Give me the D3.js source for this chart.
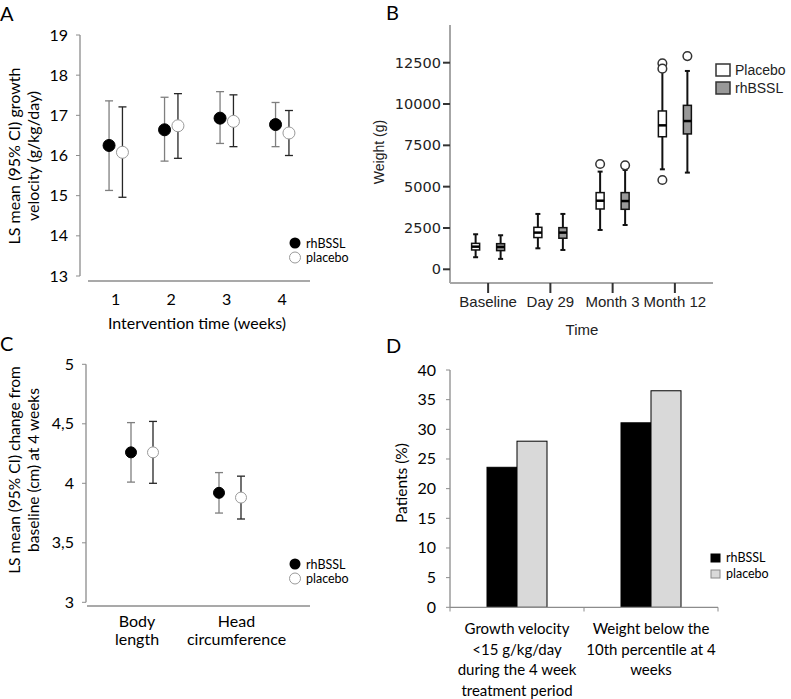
<!DOCTYPE html>
<html>
<head>
<meta charset="utf-8">
<script src="https://cdn.jsdelivr.net/npm/d3@7"></script>
<style>
  body { margin: 0; background: #fff; }
  .cal { font-family: Lato, "Open Sans", sans-serif; fill: #000; }
  .ari { font-family: "Liberation Sans", Arial, sans-serif; fill: #222; }
  .dej { font-family: "DejaVu Sans", sans-serif; fill: #222; }
</style>
</head>
<body>
<svg id="svg1"></svg>
<script>
// ---- panel A: growth velocity by week
var weeks = ["1", "2", "3", "4"];
var gvRh = [16.25, 16.64, 16.93, 16.77];
var gvRhLo = [15.13, 15.86, 16.30, 16.22];
var gvRhHi = [17.36, 17.45, 17.59, 17.32];
var gvPl = [16.08, 16.74, 16.85, 16.56];
var gvPlLo = [14.96, 15.93, 16.22, 16.00];
var gvPlHi = [17.21, 17.54, 17.51, 17.12];
var gvTicks = [13, 14, 15, 16, 17, 18, 19];

// ---- panel B: weight box plots, [min, q1, median, q3, max]
var timepoints = ["Baseline", "Day 29", "Month 3", "Month 12"];
var wtPlacebo = [[730, 1170, 1370, 1570, 2120], [1270, 1920, 2220, 2540, 3350], [2380, 3650, 4150, 4640, 5910], [6050, 8020, 8710, 9580, 11960]];
var wtRh = [[630, 1130, 1350, 1550, 2060], [1170, 1880, 2220, 2520, 3350], [2680, 3630, 4130, 4640, 6010], [5850, 8190, 8970, 9920, 12000]];
var outPlacebo = [[], [], [6370], [12460, 12140, 5400]];
var outRh = [[], [], [6290], [12900]];
var wtTicks = [0, 2500, 5000, 7500, 10000, 12500];

// ---- panel C: change from baseline at 4 weeks
var measures = [["Body", "length"], ["Head", "circumference"]];
var chRh = [4.26, 3.92];
var chRhLo = [4.01, 3.75];
var chRhHi = [4.51, 4.09];
var chPl = [4.26, 3.88];
var chPlLo = [4.00, 3.70];
var chPlHi = [4.52, 4.06];
var chTicks = [3, 3.5, 4, 4.5, 5];

// ---- panel D: patients (%)
var outcomes = [["Growth velocity", "<15 g/kg/day", "during the 4 week", "treatment period"],
                ["Weight below the", "10th percentile at 4", "weeks"]];
var pctRh = [23.6, 31.1];
var pctPl = [28.0, 36.5];
var pctTicks = [0, 5, 10, 15, 20, 25, 30, 35, 40];

var svg = d3.select("#svg1").attr("width", 791).attr("height", 699);

var axisGrey = "#8c8c8c";

// panel letters
var letters = [["A", 0, 21], ["B", 386, 20], ["C", 0, 351], ["D", 386, 353]];
svg.selectAll(".letter").data(letters).enter().append("text")
  .attr("class", "cal letter")
  .attr("x", function (d) { return d[1]; })
  .attr("y", function (d) { return d[2]; })
  .style("font-size", "20px")
  .text(function (d) { return d[0]; });

// error-bar scatter used by A and C
function ciPanel(g, opt) {
  var x = d3.scaleBand().domain(opt.cats.map(function (d, i) { return i; })).range(opt.xr);
  var y = d3.scaleLinear().domain(opt.yd).range(opt.yr);

  g.append("line").attr("x1", opt.yAxisX).attr("x2", opt.yAxisX)
    .attr("y1", y(opt.yd[1])).attr("y2", y(opt.yd[0]))
    .attr("stroke", axisGrey).attr("stroke-width", 1.3);
  if (opt.drawX !== false) {
    g.append("line").attr("x1", opt.xr[0]).attr("x2", opt.xr[1])
      .attr("y1", opt.xAxisY).attr("y2", opt.xAxisY)
      .attr("stroke", axisGrey).attr("stroke-width", 1.3);
  }

  g.selectAll(".ytick").data(opt.ticks).enter().append("line")
    .attr("x1", opt.yAxisX - 4).attr("x2", opt.yAxisX)
    .attr("y1", function (d) { return y(d); }).attr("y2", function (d) { return y(d); })
    .attr("stroke", axisGrey);
  g.selectAll(".ylab").data(opt.ticks).enter().append("text")
    .attr("class", "cal")
    .attr("x", opt.yAxisX - 12).attr("y", function (d) { return y(d) + 5.5; })
    .style("font-size", "16px").style("text-anchor", "end")
    .text(opt.fmt);

  var series = [
    { v: opt.rh, lo: opt.rhLo, hi: opt.rhHi, dx: -opt.off, bar: "#7f7f7f", fill: "#000", stroke: "#000" },
    { v: opt.pl, lo: opt.plLo, hi: opt.plHi, dx: opt.off, bar: "#262626", fill: "#fff", stroke: "#9a9a9a" }
  ];
  series.forEach(function (s) {
    var pts = s.v.map(function (v, i) {
      return { x: x(i) + x.bandwidth() / 2 + s.dx, v: v, lo: s.lo[i], hi: s.hi[i] };
    });
    var eb = g.append("g");
    eb.selectAll(".stem").data(pts).enter().append("line")
      .attr("x1", function (d) { return d.x; }).attr("x2", function (d) { return d.x; })
      .attr("y1", function (d) { return y(d.hi); }).attr("y2", function (d) { return y(d.lo); })
      .attr("stroke", s.bar).attr("stroke-width", 1.3);
    ["hi", "lo"].forEach(function (k) {
      eb.selectAll(".cap" + k).data(pts).enter().append("line")
        .attr("x1", function (d) { return d.x - 4; }).attr("x2", function (d) { return d.x + 4; })
        .attr("y1", function (d) { return y(d[k]); }).attr("y2", function (d) { return y(d[k]); })
        .attr("stroke", s.bar).attr("stroke-width", 1.3);
    });
    eb.selectAll(".dot").data(pts).enter().append("circle")
      .attr("cx", function (d) { return d.x; }).attr("cy", function (d) { return y(d.v); })
      .attr("r", opt.r).attr("fill", s.fill).attr("stroke", s.stroke).attr("stroke-width", 1);
  });

  // category labels (can be multi-line)
  opt.cats.forEach(function (c, i) {
    var lines = Array.isArray(c) ? c : [c];
    var lx = x(i) + x.bandwidth() / 2 + (opt.labNudge ? opt.labNudge[i] : 0);
    g.append("text").attr("class", "cal")
      .attr("x", lx).attr("y", opt.labY)
      .style("font-size", "16px").style("text-anchor", "middle")
      .selectAll("tspan").data(lines).enter().append("tspan")
      .attr("x", lx)
      .attr("dy", function (d, j) { return j === 0 ? 0 : 18; })
      .text(function (d) { return d; });
  });

  // y title, two lines
  var t = g.append("text").attr("class", "cal")
    .attr("transform", "translate(" + opt.titleX + "," + opt.titleY + ") rotate(-90)")
    .style("font-size", opt.titleSize).style("text-anchor", "middle");
  t.selectAll("tspan").data(opt.title).enter().append("tspan")
    .attr("x", 0).attr("dy", function (d, j) { return j === 0 ? 0 : 19; })
    .text(function (d) { return d; });

  // legend
  var lg = g.append("g").attr("transform", "translate(" + opt.legX + "," + opt.legY + ")");
  lg.append("circle").attr("cx", 0).attr("cy", 0).attr("r", 5.5).attr("fill", "#000");
  lg.append("circle").attr("cx", 0).attr("cy", 14.5).attr("r", 5.5).attr("fill", "#fff").attr("stroke", "#9a9a9a");
  lg.append("text").attr("class", "cal").attr("x", 11).attr("y", 4.5).style("font-size", "12.5px").text("rhBSSL");
  lg.append("text").attr("class", "cal").attr("x", 11).attr("y", 19).style("font-size", "12.5px").text("placebo");
}

// A
ciPanel(svg.append("g"), {
  cats: weeks, xr: [88, 310], yd: [13, 19], yr: [276, 35], ticks: gvTicks,
  yAxisX: 80, xAxisY: 281, off: 6.7, r: 6,
  rh: gvRh, rhLo: gvRhLo, rhHi: gvRhHi, pl: gvPl, plLo: gvPlLo, plHi: gvPlHi,
  fmt: function (d) { return d; }, labY: 305,
  title: ["LS mean (95% CI) growth", "velocity (g/kg/day)"], titleX: 20, titleY: 156, titleSize: "16px",
  legX: 295, legY: 243
});
svg.append("text").attr("class", "cal").attr("x", 197).attr("y", 329)
  .style("font-size", "16px").style("text-anchor", "middle").text("Intervention time (weeks)");

// C
ciPanel(svg.append("g"), {
  cats: measures, xr: [98, 274], yd: [3, 5], yr: [602.3, 364.3], ticks: chTicks,
  yAxisX: 86, xAxisY: 606, off: 11, r: 5.5, drawX: false,
  rh: chRh, rhLo: chRhLo, rhHi: chRhHi, pl: chPl, plLo: chPlLo, plHi: chPlHi,
  labNudge: [-5, 6.5],
  fmt: function (d) { return String(d).replace(".", ","); }, labY: 627,
  title: ["LS mean (95% CI) change from", "baseline (cm)  at 4 weeks"], titleX: 20, titleY: 470, titleSize: "15.5px",
  legX: 295, legY: 564
});
// x axis in C spans wider than the category scale
svg.append("line").attr("x1", 87).attr("x2", 310).attr("y1", 606).attr("y2", 606)
  .attr("stroke", axisGrey).attr("stroke-width", 1.3);

// ---- B: box plots
(function () {
  var g = svg.append("g");
  var x = d3.scaleBand().domain(timepoints).range([457, 706]);
  var y = d3.scaleLinear().domain([0, 12500]).range([269.3, 62.7]);
  var boxW = 8, off = 12.5;

  g.append("line").attr("x1", 450).attr("x2", 450).attr("y1", 25).attr("y2", 283)
    .attr("stroke", "#a6a6a6").attr("stroke-width", 2);
  g.append("line").attr("x1", 450).attr("x2", 713).attr("y1", 283).attr("y2", 283)
    .attr("stroke", "#a6a6a6").attr("stroke-width", 2);

  g.selectAll(".yt").data(wtTicks).enter().append("line")
    .attr("x1", 443).attr("x2", 450)
    .attr("y1", function (d) { return y(d); }).attr("y2", function (d) { return y(d); })
    .attr("stroke", "#333").attr("stroke-width", 2);
  g.selectAll(".yl").data(wtTicks).enter().append("text").attr("class", "dej")
    .attr("x", 441).attr("y", function (d) { return y(d) + 5; })
    .style("font-size", "14.5px").style("text-anchor", "end")
    .text(function (d) { return d; });

  g.selectAll(".xt").data(timepoints).enter().append("line")
    .attr("x1", function (d) { return x(d) + x.bandwidth() / 2; })
    .attr("x2", function (d) { return x(d) + x.bandwidth() / 2; })
    .attr("y1", 283).attr("y2", 293).attr("stroke", "#333").attr("stroke-width", 2);
  g.selectAll(".xl").data(timepoints).enter().append("text").attr("class", "ari")
    .attr("x", function (d) { return x(d) + x.bandwidth() / 2; }).attr("y", 307)
    .style("font-size", "15px").style("text-anchor", "middle")
    .text(function (d) { return d; });

  g.append("text").attr("class", "ari").attr("x", 582).attr("y", 335)
    .style("font-size", "15px").style("text-anchor", "middle").text("Time");
  g.append("text").attr("class", "ari")
    .attr("transform", "translate(384,152) rotate(-90)")
    .style("font-size", "14px").style("text-anchor", "middle").text("Weight (g)");

  var groups = [
    { stats: wtPlacebo, outs: outPlacebo, dx: -off, fill: "#fff" },
    { stats: wtRh, outs: outRh, dx: off, fill: "#999" }
  ];
  groups.forEach(function (grp) {
    grp.stats.forEach(function (s, i) {
      var cx = x(timepoints[i]) + x.bandwidth() / 2 + grp.dx;
      var b = g.append("g");
      b.append("line").attr("x1", cx).attr("x2", cx).attr("y1", y(s[4])).attr("y2", y(s[0]))
        .attr("stroke", "#111").attr("stroke-width", 2);
      [s[0], s[4]].forEach(function (w) {
        b.append("line").attr("x1", cx - 2.5).attr("x2", cx + 2.5).attr("y1", y(w)).attr("y2", y(w))
          .attr("stroke", "#111").attr("stroke-width", 2);
      });
      b.append("rect").attr("x", cx - boxW / 2).attr("width", boxW)
        .attr("y", y(s[3])).attr("height", y(s[1]) - y(s[3]))
        .attr("fill", grp.fill).attr("stroke", "#111").attr("stroke-width", 1.5);
      b.append("line").attr("x1", cx - boxW / 2).attr("x2", cx + boxW / 2)
        .attr("y1", y(s[2])).attr("y2", y(s[2]))
        .attr("stroke", "#000").attr("stroke-width", 2.5);
      b.selectAll("circle").data(grp.outs[i]).enter().append("circle")
        .attr("cx", cx).attr("cy", function (d) { return y(d); }).attr("r", 4.3)
        .attr("fill", "#fff").attr("stroke", "#333").attr("stroke-width", 1.5);
    });
  });

  // legend
  var lg = [["Placebo", "#fff", 64], ["rhBSSL", "#999", 82]];
  g.selectAll(".lr").data(lg).enter().append("rect")
    .attr("x", 716).attr("y", function (d) { return d[2]; }).attr("width", 14).attr("height", 12)
    .attr("fill", function (d) { return d[1]; }).attr("stroke", "#333").attr("stroke-width", 1.5);
  g.selectAll(".lt").data(lg).enter().append("text").attr("class", "ari")
    .attr("x", 735).attr("y", function (d) { return d[2] + 11; })
    .style("font-size", "14px").text(function (d) { return d[0]; });
})();

// ---- D: grouped bars
(function () {
  var g = svg.append("g");
  var x0 = d3.scaleBand().domain([0, 1]).range([450, 718]);
  var x1 = d3.scaleBand().domain(["rh", "pl"]).range([0, 60]);
  var y = d3.scaleLinear().domain([0, 40]).range([607.3, 370]);
  var pad = (x0.bandwidth() - 60) / 2;

  g.append("line").attr("x1", 450).attr("x2", 450).attr("y1", 370).attr("y2", 607.3)
    .attr("stroke", axisGrey).attr("stroke-width", 1.3);
  g.selectAll(".yt").data(pctTicks).enter().append("line")
    .attr("x1", 446).attr("x2", 450)
    .attr("y1", function (d) { return y(d); }).attr("y2", function (d) { return y(d); })
    .attr("stroke", axisGrey);
  g.selectAll(".yl").data(pctTicks).enter().append("text").attr("class", "cal")
    .attr("x", 436).attr("y", function (d) { return y(d) + 5.5; })
    .style("font-size", "16px").style("text-anchor", "end")
    .text(function (d) { return d; });

  var rows = [0, 1].map(function (i) { return [{ k: "rh", v: pctRh[i], i: i }, { k: "pl", v: pctPl[i], i: i }]; });
  var bars = [].concat(rows[0], rows[1]);
  g.selectAll(".bar").data(bars).enter().append("rect")
    .attr("x", function (d) { return x0(d.i) + pad + x1(d.k); })
    .attr("width", x1.bandwidth())
    .attr("y", function (d) { return y(d.v); })
    .attr("height", function (d) { return y(0) - y(d.v); })
    .attr("fill", function (d) { return d.k === "rh" ? "#000" : "#d9d9d9"; })
    .attr("stroke", "#000").attr("stroke-width", 1);

  g.append("line").attr("x1", 450).attr("x2", 718).attr("y1", 607.3).attr("y2", 607.3)
    .attr("stroke", axisGrey).attr("stroke-width", 1.3);
  g.selectAll(".xt").data([450, 584, 718]).enter().append("line")
    .attr("x1", function (d) { return d; }).attr("x2", function (d) { return d; })
    .attr("y1", 607.3).attr("y2", 611.5).attr("stroke", axisGrey);

  outcomes.forEach(function (lines, i) {
    var cx = x0(i) + x0.bandwidth() / 2;
    g.append("text").attr("class", "cal").attr("y", 634)
      .style("font-size", "15px").style("text-anchor", "middle")
      .selectAll("tspan").data(lines).enter().append("tspan")
      .attr("x", cx).attr("dy", function (d, j) { return j === 0 ? 0 : 20.5; })
      .text(function (d) { return d; });
  });

  g.append("text").attr("class", "cal")
    .attr("transform", "translate(407,483) rotate(-90)")
    .style("font-size", "15.5px").style("text-anchor", "middle").text("Patients (%)");

  var lg = [["rhBSSL", "#000", "#000", 554], ["placebo", "#d9d9d9", "#888", 570]];
  g.selectAll(".lr").data(lg).enter().append("rect")
    .attr("x", 711).attr("y", function (d) { return d[3]; }).attr("width", 9).attr("height", 8)
    .attr("fill", function (d) { return d[1]; }).attr("stroke", function (d) { return d[2]; });
  g.selectAll(".lt").data(lg).enter().append("text").attr("class", "cal")
    .attr("x", 726).attr("y", function (d) { return d[3] + 8; })
    .style("font-size", "12.5px").text(function (d) { return d[0]; });
})();
</script>
</body>
</html>
